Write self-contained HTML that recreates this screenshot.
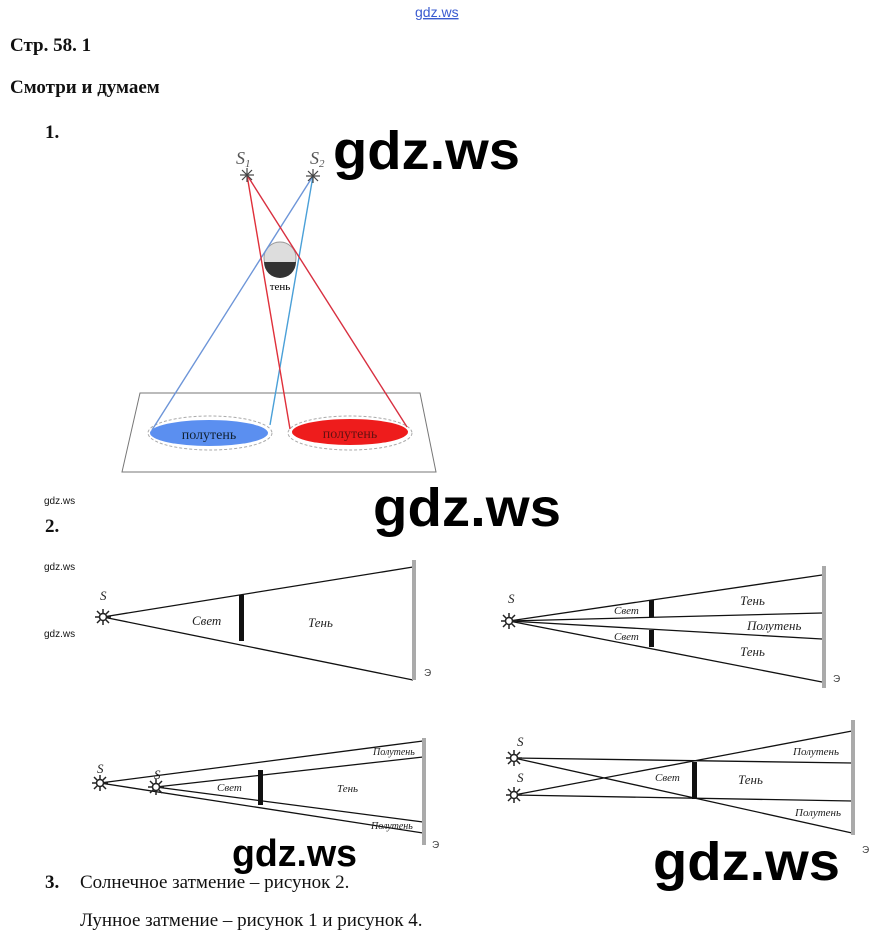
<!DOCTYPE html>
<html><head><meta charset="utf-8"><style>
html,body{margin:0;padding:0;background:#fff;}
body{width:885px;height:942px;overflow:hidden;position:relative;}
svg{position:absolute;left:0;top:0;}
</style></head><body>
<svg width="885" height="942" viewBox="0 0 885 942" xmlns="http://www.w3.org/2000/svg">
<defs>
<g id="star" stroke="#222" stroke-width="1.5">
<line x1="-8" y1="0" x2="8" y2="0"/><line x1="0" y1="-8" x2="0" y2="8"/>
<line x1="-6" y1="-6" x2="6" y2="6"/><line x1="-6" y1="6" x2="6" y2="-6"/>
<circle r="3.5" fill="#fff"/>
</g>
</defs>
<text x="415" y="17" font-family="Liberation Sans, sans-serif" font-size="14" fill="#3a5bd0" text-decoration="underline">gdz.ws</text>
<g font-family="Liberation Serif, serif" font-weight="bold" font-size="19" fill="#111">
<text x="10" y="51">Стр. 58. 1</text>
<text x="10" y="93">Смотри и думаем</text>
<text x="45" y="138">1.</text>
<text x="45" y="532">2.</text>
<text x="45" y="888">3.</text>
</g>
<g font-family="Liberation Sans, sans-serif" font-size="10" fill="#111">
<text x="44" y="504">gdz.ws</text><text x="44" y="570">gdz.ws</text><text x="44" y="637">gdz.ws</text>
</g>
<g font-family="Liberation Serif, serif" font-size="19" fill="#111">
<text x="80" y="888">Солнечное затмение – рисунок 2.</text>
<text x="80" y="926">Лунное затмение – рисунок 1 и рисунок 4.</text>
</g>

<!-- Diagram 1 -->
<polygon points="140,393 420,393 436,472 122,472" fill="none" stroke="#777" stroke-width="1"/>
<ellipse cx="210" cy="433" rx="62" ry="17" fill="none" stroke="#aaa" stroke-dasharray="3,2"/>
<ellipse cx="350" cy="433" rx="62" ry="17" fill="none" stroke="#aaa" stroke-dasharray="3,2"/>
<ellipse cx="209" cy="433" rx="59" ry="13" fill="#5b8ff0"/>
<ellipse cx="350" cy="432" rx="58" ry="13" fill="#ee1c1c"/>
<text x="209" y="439" text-anchor="middle" font-family="Liberation Serif, serif" font-size="14" fill="#123">полутень</text>
<text x="350" y="438" text-anchor="middle" font-family="Liberation Serif, serif" font-size="14" fill="#611">полутень</text>
<circle cx="280" cy="258" r="16" fill="#ddd" stroke="#999"/>
<path d="M264,262 A16,16 0 0 0 296,262 Z" fill="#333"/>
<text x="280" y="290" text-anchor="middle" font-family="Liberation Serif, serif" font-size="11">тень</text>
<g stroke-width="1.4" fill="none">
<line x1="313" y1="176" x2="152" y2="430" stroke="#6d95d8"/>
<line x1="313" y1="176" x2="270" y2="425" stroke="#4aa0d8"/>
<line x1="247" y1="175" x2="290" y2="429" stroke="#e0303a"/>
<line x1="247" y1="175" x2="407" y2="427" stroke="#d83040"/>
</g>
<g font-family="Liberation Serif, serif" font-size="18" fill="#555" font-style="italic">
<text x="236" y="164">S<tspan font-size="11" dy="3">1</tspan></text>
<text x="310" y="164">S<tspan font-size="11" dy="3">2</tspan></text>
</g>
<g stroke="#444" stroke-width="1.2">
<g transform="translate(247,175)"><line x1="-7" y1="0" x2="7" y2="0"/><line x1="0" y1="-7" x2="0" y2="7"/><line x1="-5" y1="-5" x2="5" y2="5"/><line x1="-5" y1="5" x2="5" y2="-5"/></g>
<g transform="translate(313,176)"><line x1="-7" y1="0" x2="7" y2="0"/><line x1="0" y1="-7" x2="0" y2="7"/><line x1="-5" y1="-5" x2="5" y2="5"/><line x1="-5" y1="5" x2="5" y2="-5"/></g>
</g>

<!-- Diagram 2a -->
<g stroke="#111" stroke-width="1.3">
<line x1="103" y1="617" x2="413" y2="567"/><line x1="103" y1="617" x2="413" y2="680"/>
</g>
<rect x="239" y="595" width="5" height="46" fill="#111"/>
<rect x="412" y="560" width="4" height="120" fill="#aaa"/>
<use href="#star" x="103" y="617"/>
<!-- Diagram 2b -->
<g stroke="#111" stroke-width="1.3">
<line x1="509" y1="621" x2="822" y2="575"/><line x1="509" y1="621" x2="822" y2="613"/>
<line x1="509" y1="621" x2="822" y2="639"/><line x1="509" y1="621" x2="822" y2="682"/>
</g>
<rect x="649" y="600" width="5" height="17" fill="#111"/>
<rect x="649" y="630" width="5" height="17" fill="#111"/>
<rect x="822" y="566" width="4" height="122" fill="#aaa"/>
<use href="#star" x="509" y="621"/>
<!-- Diagram 2c -->
<g stroke="#111" stroke-width="1.3">
<line x1="100" y1="783" x2="423" y2="741"/><line x1="100" y1="783" x2="423" y2="833"/>
<line x1="156" y1="787" x2="423" y2="757"/><line x1="156" y1="787" x2="423" y2="822"/>
</g>
<rect x="258" y="770" width="5" height="35" fill="#111"/>
<rect x="422" y="738" width="4" height="107" fill="#aaa"/>
<use href="#star" x="100" y="783"/><use href="#star" x="156" y="787"/>
<!-- Diagram 2d -->
<g stroke="#111" stroke-width="1.3">
<line x1="514" y1="758" x2="852" y2="763"/><line x1="514" y1="758" x2="852" y2="833"/>
<line x1="514" y1="795" x2="852" y2="731"/><line x1="514" y1="795" x2="852" y2="801"/>
</g>
<rect x="692" y="762" width="5" height="37" fill="#111"/>
<rect x="851" y="720" width="4" height="115" fill="#aaa"/>
<use href="#star" x="514" y="758"/><use href="#star" x="514" y="795"/>

<g font-family="Liberation Serif, serif" font-style="italic" font-size="13" fill="#222">
<text x="100" y="600">S</text><text x="192" y="625">Свет</text><text x="308" y="627">Тень</text>
<text x="508" y="603">S</text><text x="614" y="614" font-size="11">Свет</text><text x="614" y="640" font-size="11">Свет</text>
<text x="740" y="605">Тень</text><text x="747" y="630">Полутень</text><text x="740" y="656">Тень</text>
<text x="97" y="773">S</text><text x="154" y="779">S</text><text x="217" y="791" font-size="11">Свет</text><text x="337" y="792" font-size="11">Тень</text>
<text x="373" y="755" font-size="10">Полутень</text><text x="371" y="829" font-size="10">Полутень</text>
<text x="517" y="746">S</text><text x="517" y="782">S</text><text x="655" y="781" font-size="11">Свет</text><text x="738" y="784">Тень</text>
<text x="793" y="755" font-size="11">Полутень</text><text x="795" y="816" font-size="11">Полутень</text>
</g>
<g font-family="Liberation Sans, sans-serif" font-size="10" fill="#444">
<text x="424" y="676">Э</text><text x="833" y="682">Э</text><text x="432" y="848">Э</text><text x="862" y="853">Э</text>
</g>

<g font-family="Liberation Sans, sans-serif" font-size="54" fill="#000" font-weight="bold">
<text x="333" y="169" textLength="187" lengthAdjust="spacingAndGlyphs">gdz.ws</text>
<text x="373" y="526" textLength="188" lengthAdjust="spacingAndGlyphs">gdz.ws</text>
<text x="653" y="880" textLength="187" lengthAdjust="spacingAndGlyphs">gdz.ws</text>
<text x="232" y="866" font-size="38" textLength="125" lengthAdjust="spacingAndGlyphs">gdz.ws</text>
</g>
</svg>
</body></html>
